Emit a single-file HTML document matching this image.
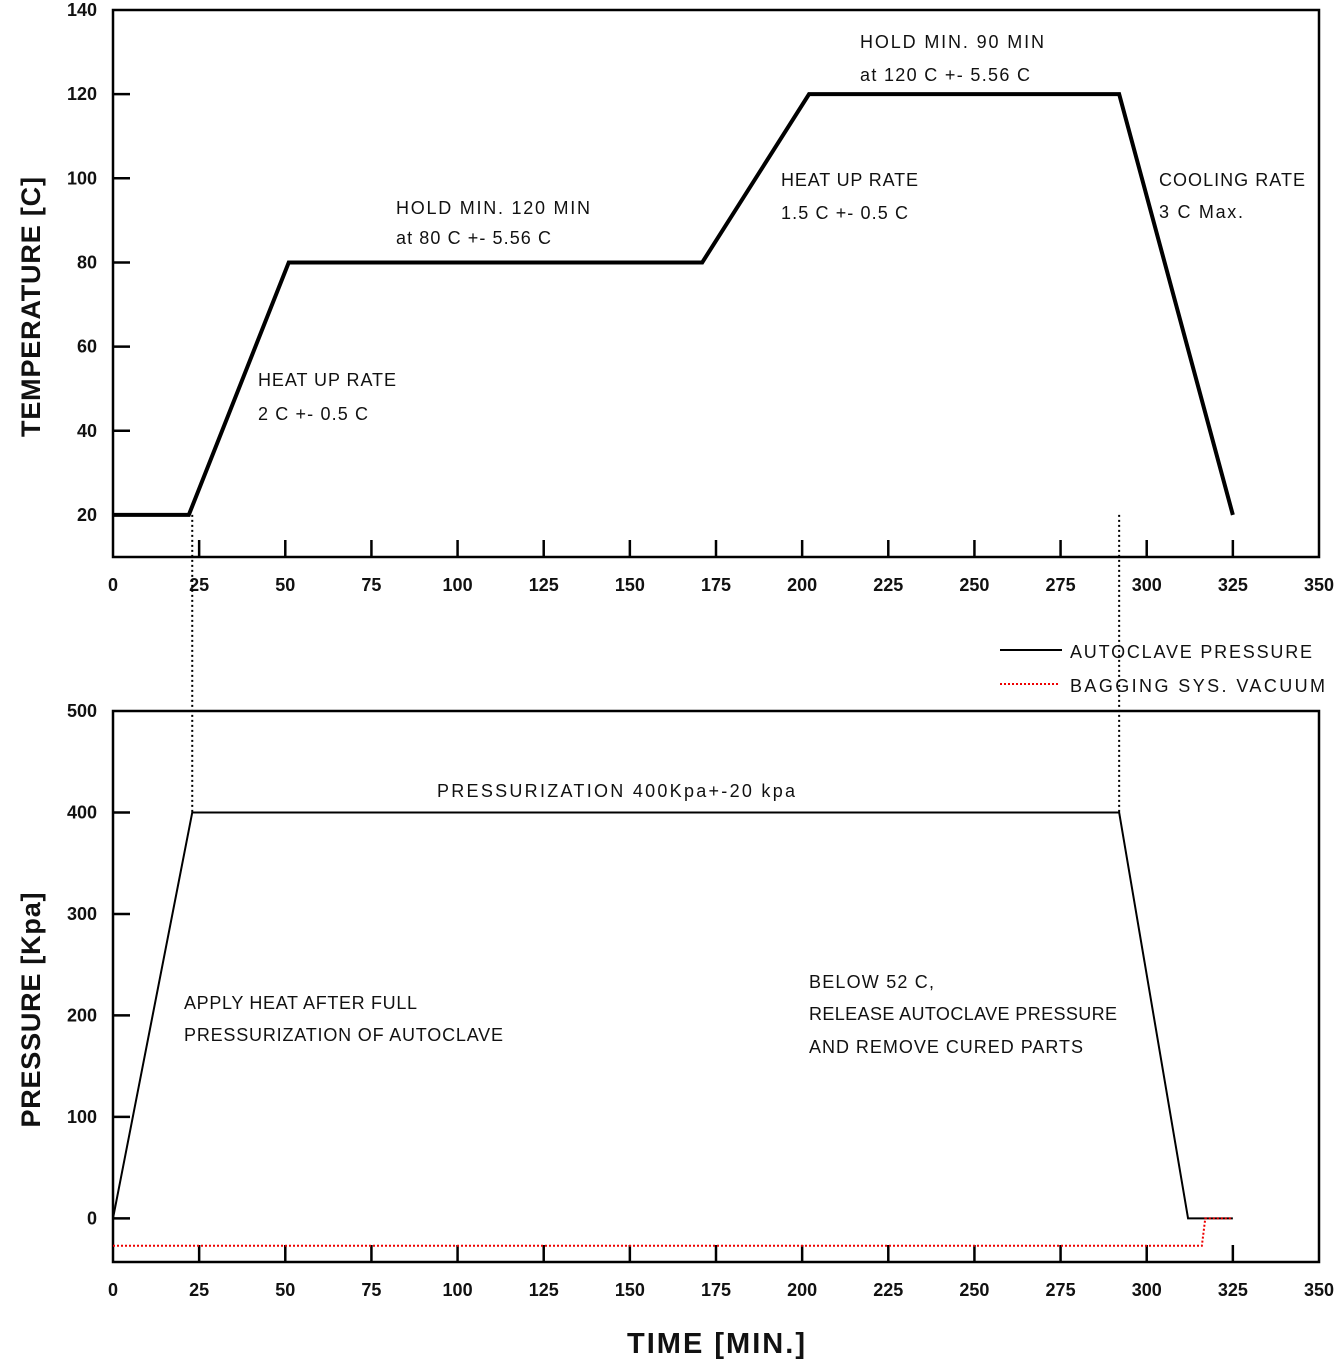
<!DOCTYPE html>
<html><head><meta charset="utf-8"><style>
body{margin:0;background:#fff;}
svg{display:block;font-family:"Liberation Sans",sans-serif;}
</style></head><body>
<svg id="c" width="1336" height="1362"></svg>
<script>
const xTicks=[0,25,50,75,100,125,150,175,200,225,250,275,300,325,350];
const tTicks=[20,40,60,80,100,120,140];
const pTicks=[0,100,200,300,400,500];
const tempTime=[0,22,51,171,202,292,325];
const tempVals=[20,20,80,80,120,120,20];
const presTime=[0,23,292,312,325];
const presVals=[0,400,400,0,0];
const vacTime=[0,316,317,325];
const vacVals=[-27,-27,0,0];
const markTimes=[23,292];

const NS="http://www.w3.org/2000/svg";
const svg=document.getElementById('c');
const X0=113,X1=1319;
const x=v=>X0+(v/350)*(X1-X0);
const tT=10,tB=557,tMin=10,tMax=140;
const yt=v=>tB-(v-tMin)/(tMax-tMin)*(tB-tT);
const pT=711,pB=1262,pMin=-43,pMax=500;
const yp=v=>pB-(v-pMin)/(pMax-pMin)*(pB-pT);
function el(t,a,p){const e=document.createElementNS(NS,t);for(const k in a)e.setAttribute(k,a[k]);(p||svg).appendChild(e);return e;}
function txt(s,xx,yy,a){const e=el('text',Object.assign({x:xx,y:yy,'font-size':17,fill:'#111'},a||{}));e.textContent=s;return e;}

const f1=el('rect',{x:X0,y:tT,width:X1-X0,height:tB-tT,fill:'none',stroke:'#000','stroke-width':2.5});


const f2=el('rect',{x:X0,y:pT,width:X1-X0,height:pB-pT,fill:'none',stroke:'#000','stroke-width':2.5});



xTicks.forEach(v=>{
  [[tB,585],[pB,1290]].forEach(([b,ly],i)=>{
    if(v>0&&v<350){const l=el('line',{x1:x(v),x2:x(v),y1:b,y2:b-17,stroke:'#000','stroke-width':2.5});
    
    }
    const t=txt(String(v),x(v),ly+6,{'text-anchor':'middle','font-size':18,'font-weight':'bold'});
    
    
  });
});
tTicks.forEach(v=>{
  if(v<140){const l=el('line',{x1:X0,x2:X0+17,y1:yt(v),y2:yt(v),stroke:'#000','stroke-width':2.5});
  
  }
  const t=txt(String(v),97,yt(v)+6,{'text-anchor':'end','font-size':18,'font-weight':'bold'});
  
  
});
pTicks.forEach(v=>{
  if(v<500){const l=el('line',{x1:X0,x2:X0+17,y1:yp(v),y2:yp(v),stroke:'#000','stroke-width':2.5});
  
  }
  const t=txt(String(v),97,yp(v)+6,{'text-anchor':'end','font-size':18,'font-weight':'bold'});
  
  
});

const tl=el('polyline',{points:tempTime.map((t,i)=>x(t)+','+yt(tempVals[i])).join(' '),fill:'none',stroke:'#000','stroke-width':4});


const pl=el('polyline',{points:presTime.map((t,i)=>x(t)+','+yp(presVals[i])).join(' '),fill:'none',stroke:'#000','stroke-width':2});


const vl=el('polyline',{points:vacTime.map((t,i)=>x(t)+','+yp(vacVals[i])).join(' '),fill:'none',stroke:'#e00','stroke-width':2,'stroke-dasharray':'2 2'});



markTimes.forEach(m=>{
  const l=el('line',{x1:x(m),x2:x(m),y1:yt(20),y2:yp(400),stroke:'#000','stroke-width':2,'stroke-dasharray':'2 3'});
  
  
});

const ann=[["HOLD MIN. 90 MIN",860,48,184],["at 120 C +- 5.56 C",860,81,170],["HOLD MIN. 120 MIN",396,214,194],["at 80 C +- 5.56 C",396,244,155],
["HEAT UP RATE",781,186,137],["1.5 C +- 0.5 C",781,219,127],["COOLING RATE",1159,186,146],["3 C Max.",1159,218,84],
["HEAT UP RATE",258,386,138],["2 C +- 0.5 C",258,420,110],["PRESSURIZATION 400Kpa+-20 kpa",437,797,358],
["APPLY HEAT AFTER FULL",184,1009,233],["PRESSURIZATION OF AUTOCLAVE",184,1041,319],
["BELOW 52 C,",809,988,125],["RELEASE AUTOCLAVE PRESSURE",809,1020,308],["AND REMOVE CURED PARTS",809,1053,274]];
ann.forEach(a=>{const t=txt(a[0],a[1],a[2],{textLength:a[3],lengthAdjust:'spacing','font-size':18});

});

const l1=el('line',{x1:1000,x2:1062,y1:650,y2:650,stroke:'#000','stroke-width':2});


const l2=el('line',{x1:1000,x2:1058,y1:684,y2:684,stroke:'#e00','stroke-width':2,'stroke-dasharray':'2 2'});


const lt1=txt("AUTOCLAVE PRESSURE",1070,658,{'font-size':18,textLength:242,lengthAdjust:'spacing'});


const lt2=txt("BAGGING SYS. VACUUM",1070,692,{'font-size':18,textLength:255,lengthAdjust:'spacing'});



const a1=txt("TEMPERATURE [C]",0,0,{'font-size':27,'font-weight':'bold',transform:'translate(40,307) rotate(-90)','text-anchor':'middle',textLength:260,lengthAdjust:'spacing'});


const a2=txt("PRESSURE [Kpa]",0,0,{'font-size':27,'font-weight':'bold',transform:'translate(40,1010) rotate(-90)','text-anchor':'middle',textLength:235,lengthAdjust:'spacing'});


const a3=txt("TIME [MIN.]",716,1353,{'font-size':29,'font-weight':'bold','text-anchor':'middle',textLength:178,lengthAdjust:'spacing'});


</script>
</body></html>
